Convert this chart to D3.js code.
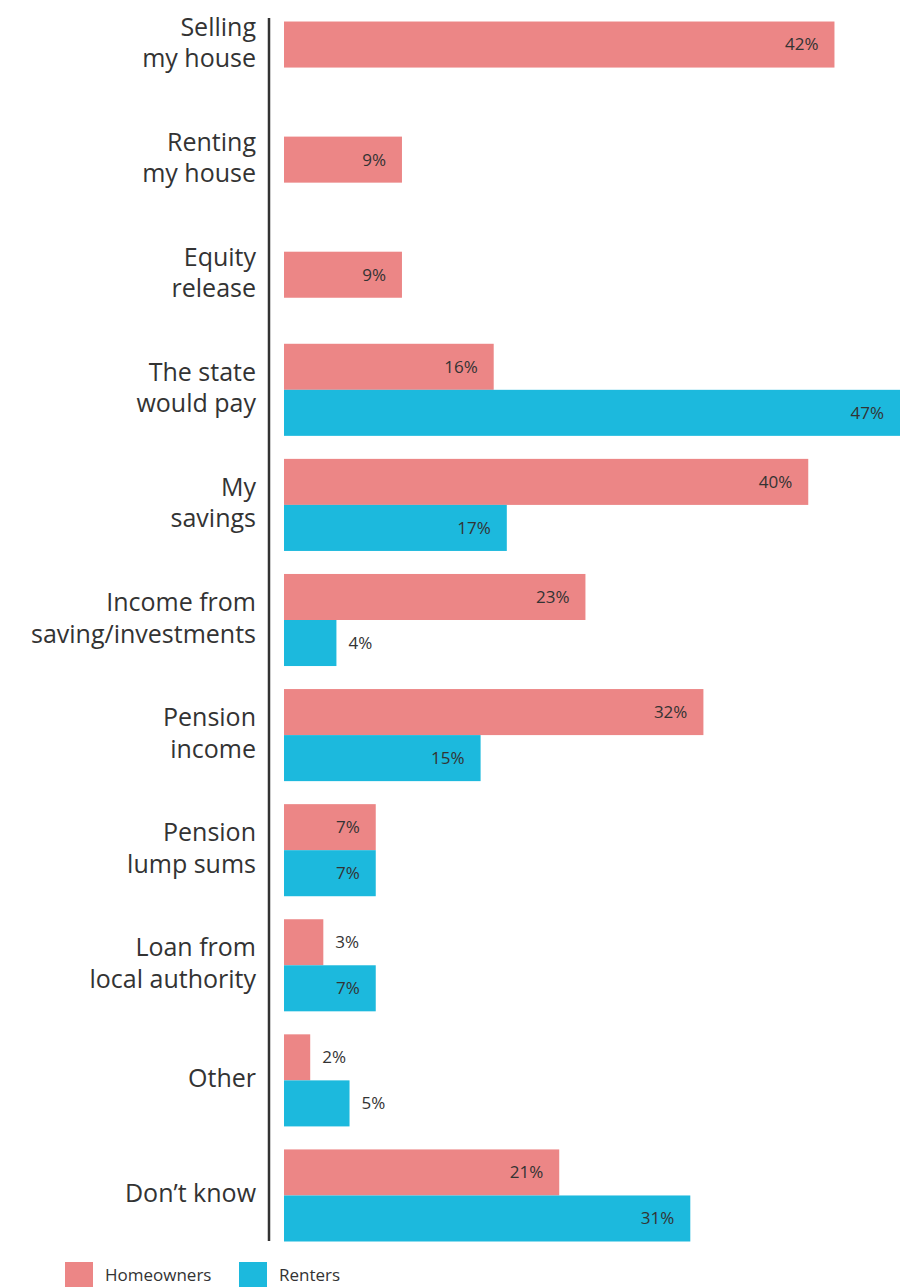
<!DOCTYPE html>
<html>
<head>
<meta charset="utf-8">
<script src="https://cdn.jsdelivr.net/npm/d3@7"></script>
<style>
  html, body { margin: 0; padding: 0; background: #fff; }
  svg { display: block; }
  text { font-family: "Open Sans", "Noto Sans", sans-serif; fill: #333; }
</style>
</head>
<body>
<svg id="chart" width="900" height="1287"></svg>
<script>
// Category labels ("|" marks a line break)
const categories = [
  "Selling|my house",
  "Renting|my house",
  "Equity|release",
  "The state|would pay",
  "My|savings",
  "Income from|saving/investments",
  "Pension|income",
  "Pension|lump sums",
  "Loan from|local authority",
  "Other",
  "Don\u2019t know"
];
const seriesNames = ["Homeowners", "Renters"];
const homeowners = [42, 9, 9, 16, 40, 23, 32, 7, 3, 2, 21];
const renters    = [null, null, null, 47, 17, 4, 15, 7, 7, 5, 31];
const colors = ["#ec8686", "#1cb9dd"];

const svg = d3.select("#chart");

const y = d3.scaleBand()
  .domain(categories)
  .range([-1.5, 1241.5])
  .paddingInner(0.2)
  .paddingOuter(0);

const x = d3.scaleLinear().domain([0, 47]).range([284, 900]);

const barH = y.bandwidth() / 2;

// rows: one or two bars per category; single bars sit centred in the band
const rows = categories.map((c, i) => {
  const vals = [homeowners[i], renters[i]];
  const present = vals.map((v, s) => ({ v, s })).filter(d => d.v != null);
  return { c, present };
});

const bars = [];
rows.forEach(r => {
  const top = y(r.c);
  if (r.present.length === 1) {
    const d = r.present[0];
    bars.push({ c: r.c, v: d.v, s: d.s, y0: top + (y.bandwidth() - barH) / 2 });
  } else {
    r.present.forEach((d, k) => bars.push({ c: r.c, v: d.v, s: d.s, y0: top + k * barH }));
  }
});

svg.append("g").selectAll("rect")
  .data(bars)
  .join("rect")
  .attr("x", x(0))
  .attr("y", d => d.y0)
  .attr("width", d => x(d.v) - x(0))
  .attr("height", barH)
  .attr("fill", d => colors[d.s]);

// value labels: inside right end, or just outside for short bars
svg.append("g").selectAll("text")
  .data(bars)
  .join("text")
  .attr("y", d => d.y0 + barH / 2)
  .attr("dy", "0.35em")
  .attr("font-size", 17)
  .each(function (d) {
    const w = x(d.v) - x(0);
    const t = d3.select(this).text(d.v + "%");
    if (w < 80) {
      t.attr("x", x(d.v) + 12).attr("text-anchor", "start");
    } else {
      t.attr("x", x(d.v) - 16).attr("text-anchor", "end");
    }
  });

// vertical axis line
svg.append("line")
  .attr("x1", 269).attr("x2", 269)
  .attr("y1", 18).attr("y2", 1241)
  .attr("stroke", "#333").attr("stroke-width", 2.5);

// category labels
const lineH = 31.5;
const lab = svg.append("g").selectAll("text")
  .data(categories)
  .join("text")
  .attr("text-anchor", "end")
  .attr("font-size", 25)
  .attr("transform", c => `translate(256,${y(c) + y.bandwidth() / 2 - 2})`);

lab.each(function (c) {
  const lines = c.split("|");
  const t = d3.select(this);
  lines.forEach((ln, i) => {
    t.append("tspan")
      .attr("x", 0)
      .attr("y", (i - (lines.length - 1) / 2) * lineH)
      .attr("dy", "0.35em")
      .text(ln);
  });
});

// legend
const legend = svg.append("g").attr("transform", "translate(65,1262)");
const legendX = [0, 174];
seriesNames.forEach((n, i) => {
  const g = legend.append("g").attr("transform", `translate(${legendX[i]},0)`);
  g.append("rect").attr("width", 28).attr("height", 25).attr("fill", colors[i]);
  g.append("text").attr("x", 40).attr("y", 19).attr("font-size", 17).text(n);
});
</script>
</body>
</html>
